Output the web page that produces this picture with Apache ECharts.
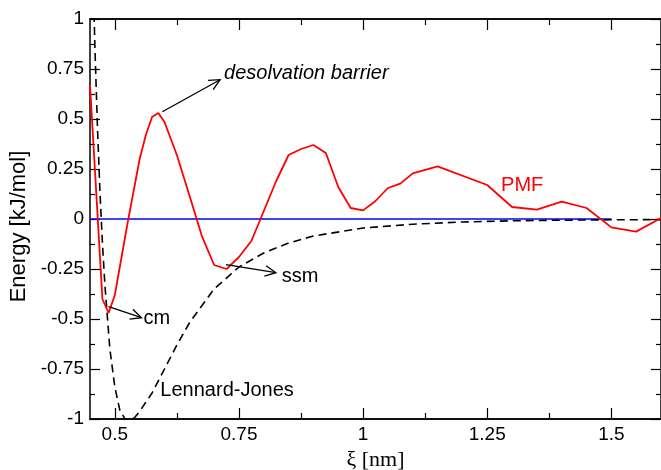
<!DOCTYPE html>
<html>
<head>
<meta charset="utf-8">
<script src="https://cdn.jsdelivr.net/npm/echarts@6/dist/echarts.min.js"></script>
<style>
  html, body { margin: 0; padding: 0; background: #fff; }
  #chart { width: 661px; height: 470px; }
</style>
</head>
<body>
<div id="chart"></div>
<script>
// Potential of mean force along the separation coordinate
const pmfX = [0.45, 0.475, 0.4875, 0.5, 0.525, 0.55, 0.5625, 0.575, 0.5875, 0.6, 0.625, 0.65, 0.675,
  0.7, 0.725, 0.75, 0.775, 0.8, 0.825, 0.85, 0.875, 0.9, 0.925, 0.95, 0.975, 1.0, 1.025, 1.05,
  1.075, 1.1, 1.15, 1.25, 1.3, 1.35, 1.4, 1.45, 1.5, 1.55, 1.6];
const pmfY = [0.67, -0.40, -0.47, -0.38, -0.03, 0.30, 0.42, 0.51, 0.53, 0.485, 0.32, 0.12, -0.083,
  -0.23, -0.25, -0.19, -0.11, 0.04, 0.19, 0.32, 0.35, 0.37, 0.33, 0.16, 0.055, 0.043, 0.09, 0.155,
  0.177, 0.228, 0.263, 0.17, 0.06, 0.047, 0.087, 0.055, -0.042, -0.063, 0.005];

// Lennard-Jones reference potential
const ljX = [0.455, 0.46, 0.465, 0.47, 0.475, 0.48, 0.49, 0.5, 0.51, 0.52, 0.53, 0.54, 0.55, 0.575,
  0.6, 0.625, 0.65, 0.7, 0.75, 0.8, 0.85, 0.9, 1.0, 1.1, 1.2, 1.3, 1.4, 1.5, 1.6];
const ljY = [1.32, 0.85, 0.46, 0.14, -0.12, -0.33, -0.65, -0.84, -0.955, -0.998, -1.006, -0.993, -0.962,
  -0.87, -0.75, -0.63, -0.52, -0.35, -0.24, -0.17, -0.12, -0.085, -0.045, -0.026, -0.015, -0.009,
  -0.006, -0.004, -0.003];

// Zero reference
const zeroX = [0.45, 1.5];
const zeroY = [0, 0];

// Axis ticks
const xMajor = [0.5, 0.75, 1, 1.25, 1.5];
const xMinor = [0.625, 0.875, 1.125, 1.375];

// Annotations: text anchor (data coords) and optional arrow from -> to
const notes = [
  { text: 'desolvation barrier', at: [0.72, 0.73], italic: true, color: '#000',
    arrow: [[0.5957, 0.5365], [0.712, 0.6965]] },
  { text: 'cm', at: [0.5576, -0.4985], color: '#000',
    arrow: [[0.4874, -0.4385], [0.5536, -0.4935]] },
  { text: 'ssm', at: [0.8364, -0.287], color: '#000',
    arrow: [[0.7241, -0.2285], [0.8244, -0.2685]] },
  { text: 'Lennard-Jones', at: [0.5917, -0.8585], color: '#000' },
  { text: 'PMF', at: [1.278, 0.1665], color: '#ff0000' }
];

const zip = (xs, ys) => xs.map((x, i) => [x, ys[i]]);

const FONT = '"Liberation Sans", Arial, Helvetica, sans-serif';
const axisLineStyle = { color: '#000', width: 1.5 };

function xAxisDef(position, ticks, len, showLabels) {
  return {
    type: 'value', min: 0.45, max: 1.6, position: position,
    axisLine: { show: true, onZero: false, lineStyle: axisLineStyle },
    axisTick: { show: true, inside: true, length: len, customValues: ticks,
      lineStyle: { color: '#000', width: 1.2 } },
    axisLabel: showLabels ? { show: true, customValues: ticks, color: '#000',
      fontFamily: FONT, fontSize: 19, margin: 6 } : { show: false },
    splitLine: { show: false }
  };
}

function yAxisDef(position, showLabels) {
  return {
    type: 'value', min: -1, max: 1, interval: 0.25, position: position,
    axisLine: { show: true, onZero: false, lineStyle: axisLineStyle },
    axisTick: { show: true, inside: true, length: 10, lineStyle: { color: '#000', width: 1.2 } },
    minorTick: { show: true, splitNumber: 2, length: 5, lineStyle: { color: '#000', width: 1.2 } },
    axisLabel: showLabels ? { show: true, color: '#000', fontFamily: FONT, fontSize: 19, margin: 6 }
      : { show: false },
    splitLine: { show: false }
  };
}

const xMain = xAxisDef('bottom', xMajor, 11, true);
xMain.name = 'ξ [nm]';
xMain.nameLocation = 'middle';
xMain.nameGap = 27;
xMain.nameTextStyle = { fontFamily: '"Liberation Serif", "Times New Roman", serif', fontSize: 22, color: '#000' };

const yMain = yAxisDef('left', true);
yMain.name = 'Energy [kJ/mol]';
yMain.nameLocation = 'middle';
yMain.nameGap = 53;
yMain.nameTextStyle = { fontFamily: FONT, fontSize: 22, color: '#000', padding: [0, 15, 0, 0] };

const chart = echarts.init(document.getElementById('chart'), null, { renderer: 'canvas' });
chart.setOption({
  animation: false,
  backgroundColor: '#fff',
  grid: { left: 90, right: 0, top: 19, bottom: 51, containLabel: false, outerBoundsMode: 'none' },
  xAxis: [
    xMain,
    xAxisDef('bottom', xMinor, 6, false),
    xAxisDef('top', xMajor, 11, false),
    xAxisDef('top', xMinor, 6, false)
  ],
  yAxis: [yMain, yAxisDef('right', false)],
  series: [
    { type: 'line', data: zip(zeroX, zeroY), showSymbol: false, symbol: 'none',
      lineStyle: { color: '#0000ff', width: 1.6 }, z: 2 },
    { type: 'line', data: zip(ljX, ljY), showSymbol: false, symbol: 'none', clip: true,
      lineStyle: { color: '#000', width: 1.6, type: [8, 5], dashOffset: 6 }, z: 3 },
    { type: 'line', data: zip(pmfX, pmfY), showSymbol: false, symbol: 'none', clip: true,
      lineStyle: { color: '#ff0000', width: 1.8 }, z: 4 }
  ]
});

// Annotation texts and open-headed arrows placed in data coordinates
const graphics = [];
notes.forEach(n => {
  const p = chart.convertToPixel({ gridIndex: 0 }, n.at);
  graphics.push({
    type: 'text', x: p[0], y: p[1], z: 10,
    style: { text: n.text, fill: n.color, fontFamily: FONT, fontSize: 20,
      fontStyle: n.italic ? 'italic' : 'normal', align: 'left', verticalAlign: 'middle' }
  });
  if (n.arrow) {
    const a = chart.convertToPixel({ gridIndex: 0 }, n.arrow[0]);
    const b = chart.convertToPixel({ gridIndex: 0 }, n.arrow[1]);
    const ang = Math.atan2(b[1] - a[1], b[0] - a[0]);
    const head = 12, spread = 0.45;
    const h1 = [b[0] - head * Math.cos(ang - spread), b[1] - head * Math.sin(ang - spread)];
    const h2 = [b[0] - head * Math.cos(ang + spread), b[1] - head * Math.sin(ang + spread)];
    graphics.push({ type: 'polyline', z: 10, shape: { points: [a, b] },
      style: { stroke: '#000', lineWidth: 1.3, fill: null } });
    graphics.push({ type: 'polyline', z: 10, shape: { points: [h1, b, h2] },
      style: { stroke: '#000', lineWidth: 1.3, fill: null } });
  }
});
chart.setOption({ graphic: graphics });
</script>
</body>
</html>
